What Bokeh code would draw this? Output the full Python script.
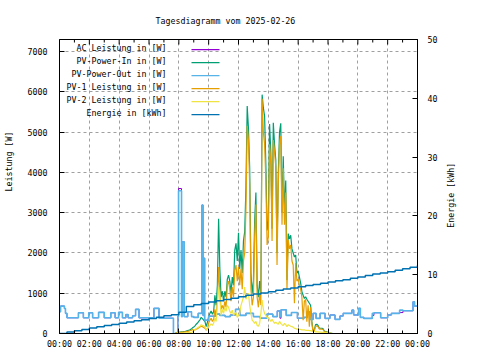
import math
import numpy as np
from bokeh.plotting import figure
from bokeh.models import Range1d, LinearAxis, FixedTicker, Label, BoxAnnotation
from bokeh.embed import file_html
from bokeh.resources import INLINE

FONT = "DejaVu Sans Mono"
FS = "8.3px"
NB = "\u00a0"

title_text = "Tagesdiagramm vom 2025-02-26"
y_label = "Leistung [W]"
y2_label = "Energie [kWh]"
legend_labels = ["AC Leistung in [W]", "PV-Power-In in [W]", "PV-Power-Out in [W]",
                 "PV-1 Leistung in [W]", "PV-2 Leistung in [W]", "Energie in [kWh]"]
colors = ["#9400d3", "#009e73", "#56b4e9", "#e69f00", "#f0e442", "#0072b2"]

x_ticks = [0, 2, 4, 6, 8, 10, 12, 14, 16, 18, 20, 22, 24]
x_minor = [1, 3, 5, 7, 9, 11, 13, 15, 17, 19, 21, 23]
x_tick_labels = ["00:00", "02:00", "04:00", "06:00", "08:00", "10:00", "12:00",
                 "14:00", "16:00", "18:00", "20:00", "22:00", "00:00"]
y_ticks = [0, 1000, 2000, 3000, 4000, 5000, 6000, 7000]
e_ticks = [0, 10, 20, 30, 40, 50]
y_max = 7300
e_max = 50
y2_label_pos = 18  # where the right axis title starts (energy scale)

# PV series, 5-minute samples starting 07:45
pv_start_h = 7.75
pv_in_w = [0, 20, 30,
           30, 35, 40, 40, 45, 50, 60, 70, 80, 90, 110, 140,
           160, 190, 230, 260, 300, 340, 400, 370, 330, 300, 170, 280,
           420, 500, 560, 480, 540, 950, 700, 1200, 2850, 1600, 900, 1050,
           800, 1050, 900, 1350, 1450, 1300, 1000, 1400, 1200, 2070, 2240, 1800,
           2500, 1600, 2070, 1500, 2300, 2530, 3640, 5650, 5100, 4100, 1500, 1000,
           1300, 2800, 3500, 1200, 900, 1300, 1000, 5930, 5600, 5400, 4200, 2560,
           2800, 5200, 4500, 2600, 5230, 4700, 4300, 2000, 3970, 5000, 5220, 3000,
           4400, 3000, 3800, 1330, 2480, 2350, 2440, 2100, 2000, 1900, 1950, 1500,
           1550, 1400, 1250, 1040, 950, 870, 910, 850, 800, 750, 700, 300,
           60, 90, 220, 230, 200, 130, 130, 130, 120, 60, 50, 40,
           30, 20, 10, 5, 0, 0, 0]
pv1_w = [0, 15, 25,
         25, 30, 30, 35, 35, 40, 45, 55, 60, 70, 80, 100,
         80, 90, 110, 120, 140, 160, 180, 170, 150, 130, 80, 130,
         260, 330, 380, 300, 350, 600, 450, 800, 1650, 1000, 600, 700,
         600, 800, 650, 1200, 1300, 1100, 800, 1150, 900, 1570, 1700, 1300,
         1650, 1200, 1600, 1100, 1800, 2000, 3100, 5150, 4800, 3700, 1100, 700,
         900, 2400, 3200, 900, 650, 1000, 700, 5830, 5000, 4700, 3800, 2200,
         2400, 4700, 4200, 2300, 4800, 4500, 4140, 1700, 3700, 4700, 4900, 2700,
         4100, 2700, 3500, 1100, 2320, 2100, 2200, 1800, 1700, 750, 1750, 1300,
         1350, 1200, 1100, 900, 330, 800, 850, 290, 700, 170, 650, 250,
         40, 70, 180, 190, 170, 110, 110, 110, 100, 50, 40, 30,
         25, 15, 8, 3, 0, 0, 0]
pv2_w = [0, 5, 10,
         5, 5, 10, 10, 10, 15, 15, 20, 20, 25, 30, 40,
         80, 100, 120, 140, 160, 180, 220, 200, 190, 170, 90, 150,
         160, 200, 240, 200, 260, 380, 300, 700, 1150, 900, 450, 600,
         500, 650, 550, 700, 650, 550, 500, 580, 450, 500, 520, 400,
         450, 500, 700, 800, 900, 1150, 850, 950, 1000, 700, 500, 330,
         300, 250, 300, 200, 180, 250, 500, 830, 600, 500, 450, 400,
         400, 350, 300, 350, 300, 250, 280, 250, 230, 300, 250, 220,
         200, 250, 220, 170, 220, 200, 180, 170, 160, 130, 120, 110,
         110, 100, 100, 90, 90, 90, 80, 80, 80, 70, 70, 60,
         50, 50, 40, 40, 40, 35, 35, 30, 30, 25, 20, 20,
         15, 10, 5, 0, 0, 0, 0]
pv_t = pv_start_h + np.arange(len(pv_in_w)) * 5 / 60

# PV-Power-Out (step changes), hours and W
out_t = [0.00, 0.07, 0.33, 0.40, 0.50, 1.27, 1.60, 1.96, 2.22, 2.62, 3.00, 3.44,
         3.73, 3.96, 4.22, 4.45, 4.60, 4.90, 5.10, 5.33, 6.33, 6.67, 7.64, 7.93,
         7.98, 8.18, 8.24, 8.36, 8.60, 8.85, 9.00, 9.30, 9.55, 9.62, 9.68, 9.73,
         10.00, 10.45, 10.75, 11.10, 11.45, 11.80, 12.10, 12.50, 13.00, 13.45, 13.90, 14.30,
         14.60, 14.78, 14.85, 15.20, 15.55, 15.95, 16.40, 16.60, 16.80, 17.00, 17.20, 17.47,
         17.80, 18.13, 18.47, 18.80, 19.02, 19.60, 19.72, 20.05, 20.17, 20.40, 20.97, 21.08,
         21.53, 22.00, 22.25, 22.80, 23.03, 23.70, 23.80, 24.00]
pv_out_w = [540, 680, 620, 500, 390, 515, 390, 515, 390, 525, 390, 515,
            390, 525, 390, 470, 390, 440, 600, 390, 625, 380, 0, 420,
            3545, 420, 2280, 420, 540, 420, 400, 500, 3190, 450, 1870, 330,
            430, 480, 450, 420, 460, 600, 450, 500, 420, 380, 480, 420,
            560, 420, 590, 450, 520, 380, 400, 540, 350, 500, 375, 500,
            375, 460, 350, 435, 500, 580, 460, 625, 400, 375, 500, 515,
            390, 460, 500, 580, 565, 790, 680, 680]
# AC power follows PV-Power-Out except where it peeks out
ac_diff = {7.98: 3600, 14.78: 380, 20.97: 450, 22.80: 520}
ac_w = [ac_diff.get(t, w) for t, w in zip(out_t, pv_out_w)]

# Energy, half-hourly
energy_t = np.arange(0, 24.01, 0.5)
energy_kwh = [0.0, 0.25, 0.45, 0.7, 0.95, 1.15, 1.35, 1.55, 1.75, 1.95, 2.15, 2.35,
              2.55, 2.75, 3.0, 3.2, 3.6, 4.6, 4.9, 5.1, 5.35, 5.55, 5.8, 6.0,
              6.25, 6.5, 6.7, 6.9, 7.1, 7.35, 7.55, 7.75, 7.95, 8.15, 8.35, 8.55,
              8.75, 8.95, 9.15, 9.4, 9.6, 9.85, 10.1, 10.3, 10.5, 10.75, 11.0, 11.25,
              11.6]

# Frame in page pixels: x 58..418, y 39..333
FL, FR, FT, FB = 58, 418, 39, 333
W, H = 464, 352

p = figure(width=W, height=H, x_range=Range1d(0, 24), y_range=Range1d(0, y_max),
           output_backend="svg", toolbar_location=None,
           min_border_left=FL, min_border_right=W - FR, min_border_top=FT,
           min_border_bottom=H - FB)
p.extra_y_ranges = {"energy": Range1d(0, e_max)}
p.background_fill_color = "white"
p.border_fill_color = "white"
p.outline_line_color = "black"
p.outline_line_width = 1

p.title.text = title_text
p.title.align = "left"
p.title.offset = 96
p.title.standoff = 27
p.title.text_font = FONT
p.title.text_font_size = FS
p.title.text_font_style = "normal"
p.title.text_color = "black"

def style_axis(ax):
    ax.axis_line_color = "black"
    ax.major_tick_line_color = "black"
    ax.minor_tick_line_color = "black"
    ax.major_tick_out = 0
    ax.major_tick_in = 5
    ax.minor_tick_out = 0
    ax.minor_tick_in = 3
    ax.major_label_text_font = FONT
    ax.major_label_text_font_size = FS
    ax.major_label_text_color = "black"
    ax.axis_label_text_font = FONT
    ax.axis_label_text_font_size = FS
    ax.axis_label_text_font_style = "normal"
    ax.axis_label_text_color = "black"

xa = p.xaxis[0]
xa.ticker = FixedTicker(ticks=x_ticks, minor_ticks=x_minor)
xa.major_label_overrides = {t: l for t, l in zip(x_ticks, x_tick_labels)}
style_axis(xa)
xa.major_label_standoff = 5

ya = p.yaxis[0]
ya.ticker = FixedTicker(ticks=y_ticks)
style_axis(ya)
ya.minor_tick_line_color = None
ya.major_label_standoff = 12
ya.axis_label = NB * 10 + y_label
ya.axis_label_standoff = 11

ea = LinearAxis(y_range_name="energy", ticker=FixedTicker(ticks=e_ticks))
style_axis(ea)
ea.minor_tick_line_color = None
ea.major_label_standoff = 10
p.add_layout(ea, "right")

# right axis title, reading bottom-to-top like the reference
et = LinearAxis(y_range_name="energy", ticker=FixedTicker(ticks=[y2_label_pos]),
                major_label_overrides={y2_label_pos: y2_label},
                major_label_orientation=math.pi / 2)
style_axis(et)
et.axis_line_color = None
et.major_tick_line_color = None
et.minor_tick_line_color = None
et.major_label_standoff = 11
p.add_layout(et, "right")

for g in (p.xgrid[0], p.ygrid[0]):
    g.grid_line_color = "#a0a0a0"
    g.grid_line_dash = "3 3"
    g.grid_line_width = 1
p.xgrid[0].ticker = FixedTicker(ticks=x_ticks)
p.ygrid[0].ticker = FixedTicker(ticks=y_ticks)

# mirrored x ticks on the top edge of the frame
px_per_w = (FB - FT) / y_max
p.segment(x0=x_ticks, x1=x_ticks, y0=[y_max] * len(x_ticks),
          y1=[y_max - 5 / px_per_w] * len(x_ticks), color="black", line_width=1)
p.segment(x0=x_minor, x1=x_minor, y0=[y_max] * len(x_minor),
          y1=[y_max - 3 / px_per_w] * len(x_minor), color="black", line_width=1)

p.step(out_t, ac_w, mode="after", color=colors[0], line_width=1.0)
p.line(pv_t, pv_in_w, color=colors[1], line_width=1.2)
p.step(out_t, pv_out_w, mode="after", color=colors[2], line_width=1.6)
p.line(pv_t, pv1_w, color=colors[3], line_width=1.2)
p.line(pv_t, pv2_w, color=colors[4], line_width=1.2)
p.step(energy_t, energy_kwh, mode="after", color=colors[5], line_width=1.5,
       y_range_name="energy")

# legend (frame-relative screen units, y up)
for i, (name, col) in enumerate(zip(legend_labels, colors)):
    ty = 47.5 + 13 * i
    p.add_layout(Label(x=165 - FL, y=FB - ty, x_units="screen", y_units="screen",
                       text=name, text_align="right", text_baseline="middle",
                       text_font=FONT, text_font_size=FS, text_color="black"))
    row = 49 + 13 * i
    p.add_layout(BoxAnnotation(left=190 - FL, right=218 - FL, top=FB - row + 0.5,
                               bottom=FB - row - 0.7,
                               left_units="screen", right_units="screen",
                               top_units="screen", bottom_units="screen",
                               fill_color=col, fill_alpha=1.0, line_alpha=0))

open("out.html", "w").write(file_html(p, INLINE))
